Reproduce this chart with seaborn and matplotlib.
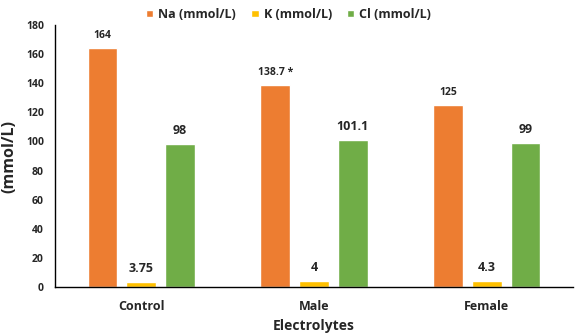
import matplotlib
matplotlib.use("Agg")
import matplotlib.pyplot as plt
import seaborn as sns
import pandas as pd
from matplotlib.patches import Patch

groups = ["Control", "Male", "Female"]
series = ["Na (mmol/L)", "K (mmol/L)", "Cl (mmol/L)"]
na_values = [164, 138.7, 125]
k_values = [3.75, 4, 4.3]
cl_values = [98, 101.1, 99]
na_labels = ["164", "138.7 *", "125"]
k_labels = ["3.75", "4", "4.3"]
cl_labels = ["98", "101.1", "99"]
colors = ["#ED7D31", "#FFC000", "#70AD47"]

rows = []
for s, vals in zip(series, [na_values, k_values, cl_values]):
    for g, v in zip(groups, vals):
        rows.append({"group": g, "series": s, "value": v})
df = pd.DataFrame(rows)

sns.set_style("white")
plt.rcParams["font.family"] = ["Open Sans", "DejaVu Sans"]
plt.rcParams["font.weight"] = "bold"

fig = plt.figure(figsize=(5.77, 3.36), dpi=100)
ax = fig.add_axes([0.0953, 0.1458, 0.8977, 0.7798])
sns.barplot(data=df, x="group", y="value", hue="series", palette=colors,
            width=0.675, gap=0.23, ax=ax, legend=False, saturation=1)

label_sets = [na_labels, k_labels, cl_labels]
sizes = [7.5, 9, 9]
for cont, labs, fs in zip(ax.containers, label_sets, sizes):
    ax.bar_label(cont, labels=labs, padding=5, fontsize=fs, fontweight="bold")

ax.set_ylim(0, 180)
ax.set_xlim(-0.5, 2.5)
ax.set_yticks(range(0, 181, 20))
ax.tick_params(axis="y", length=0, labelsize=7.5, pad=8)
ax.tick_params(axis="x", length=0, labelsize=9, pad=9)
for lab in ax.get_yticklabels() + ax.get_xticklabels():
    lab.set_fontweight("bold")
ax.set_ylabel("(mmol/L)", fontsize=11.5, fontweight="bold", labelpad=6)
ax.set_xlabel("Electrolytes", fontsize=10, fontweight="bold", labelpad=5)
for side in ["top", "right"]:
    ax.spines[side].set_visible(False)
ax.spines["left"].set_color("black")
ax.spines["bottom"].set_color("black")
ax.spines["left"].set_linewidth(1)
ax.spines["bottom"].set_linewidth(1)

handles = [Patch(facecolor=c, label=s) for c, s in zip(colors, series)]
fig.legend(handles=handles, loc="upper center", bbox_to_anchor=(0.5, 1.01),
           ncol=3, frameon=False, handlelength=0.6, handleheight=0.6,
           columnspacing=1.2, handletextpad=0.4, prop={"weight": "bold", "size": 9})

fig.savefig("out.png", dpi=100)
